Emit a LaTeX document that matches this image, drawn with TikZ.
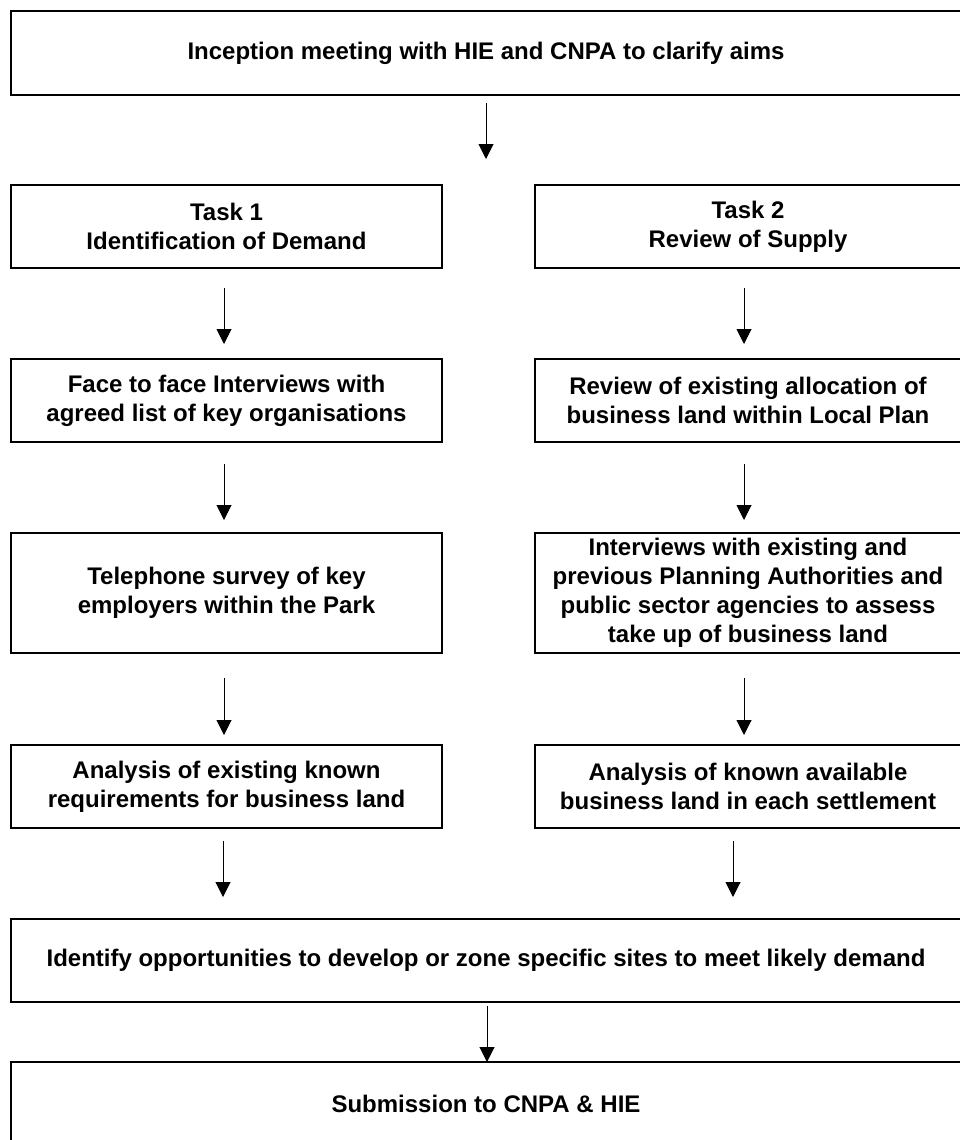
\documentclass[tikz,border=0pt]{standalone}
\usepackage{fontspec}
\setmainfont{Liberation Sans}
\usetikzlibrary{arrows.meta, positioning}

\begin{document}
\begin{tikzpicture}[x=1pt, y=-1pt]
\tikzset{task box/.style={
    draw, line width=2pt, outer sep=0pt, inner sep=2pt,
    minimum height=83pt, align=center,
    font=\bfseries\fontsize{24}{29}\selectfont
  },
  wide box/.style={task box, minimum width=950pt},
  left box/.style={task box, minimum width=431pt},
  right box/.style={task box, minimum width=426pt},
  flow arrow/.style={line width=1pt, -{Triangle[length=15pt,width=15pt]}}
}

\useasboundingbox (0,0) rectangle (959,1140);

% top and bottom rows
\node[wide box] (top) at (486,53) {Inception meeting with HIE and CNPA to clarify aims};
\node[wide box] (opp) at (486,960.5) {Identify opportunities to develop or zone specific sites to meet likely demand};
\node[wide box, minimum height=84pt] (sub) at (486,1104) {Submission to CNPA \& HIE};

% demand column
\node[left box] (t1) at (226.5,226.5) {Task 1\\Identification of Demand};
\node[left box] (l2) at (226.5,400.5) {Face to face Interviews with\\agreed list of key organisations};
\node[left box, minimum height=120pt] (l3) at (226.5,593) {Telephone survey of key\\employers within the Park};
\node[left box] (l4) at (226.5,786.5) {Analysis of existing known\\requirements for business land};

% supply column
\node[right box] (t2) at (748,226.5) {Task 2\\Review of Supply};
\node[right box] (r2) at (748,400.5) {Review of existing allocation of\\business land within Local Plan};
\node[right box, minimum height=120pt] (r3) at (748,593) {Interviews with existing and\\previous Planning Authorities and\\public sector agencies to assess\\take up of business land};
\node[right box] (r4) at (748,786.5) {Analysis of known available\\business land in each settlement};

% arrows
\coordinate (split) at (486,159);
\draw[flow arrow, shorten <=8pt] (top) -- (split);

\foreach \a/\b/\s/\e in {t1/l2/20/15, l2/l3/22/13, l3/l4/25/10}
  \draw[flow arrow, shorten <=\s pt, shorten >=\e pt] ([xshift=-2.5pt]\a.south) -- ([xshift=-2.5pt]\b.north);
\foreach \a/\b/\s/\e in {t2/r2/20/15, r2/r3/22/13, r3/r4/25/10}
  \draw[flow arrow, shorten <=\s pt, shorten >=\e pt] ([xshift=-4pt]\a.south) -- ([xshift=-4pt]\b.north);

\coordinate (l4out) at ([xshift=-3.5pt]l4.south);
\coordinate (r4out) at ([xshift=-15pt]r4.south);
\draw[flow arrow, shorten <=13pt, shorten >=22pt] (l4out) -- (l4out |- opp.north);
\draw[flow arrow, shorten <=13pt, shorten >=22pt] (r4out) -- (r4out |- opp.north);
\draw[flow arrow, shorten <=4pt] ([xshift=1pt]opp.south) -- ([xshift=1pt]sub.north);

\end{tikzpicture}
\end{document}
